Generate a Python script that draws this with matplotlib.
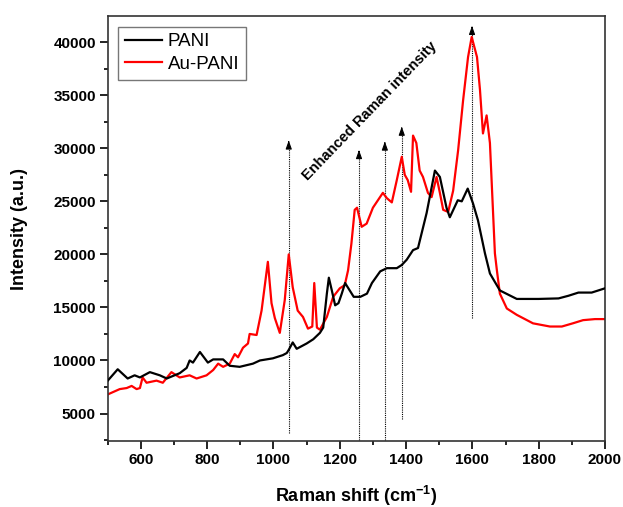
import matplotlib
matplotlib.use("Agg")
import matplotlib.pyplot as plt
from matplotlib.ticker import MultipleLocator

plt.rcParams['font.family'] = ['Liberation Sans', 'DejaVu Sans']
plt.rcParams['mathtext.fontset'] = 'custom'
plt.rcParams['mathtext.rm'] = 'Liberation Sans:bold'
plt.rcParams['mathtext.bf'] = 'Liberation Sans:bold'
plt.rcParams['mathtext.default'] = 'bf'

# PANI (black)
pani_x = [500, 530, 560, 581, 597, 627, 657, 678, 717, 738, 747, 757, 778, 802, 818, 848,
          868, 898, 938, 959, 998, 1028, 1040, 1046, 1058, 1070, 1100, 1120, 1140, 1150,
          1161, 1167, 1176, 1186, 1196, 1206, 1216, 1226, 1242, 1262, 1282, 1297, 1322,
          1342, 1372, 1387, 1402, 1421, 1436, 1462, 1487, 1502, 1522, 1532, 1556, 1568,
          1586, 1602, 1617, 1638, 1653, 1683, 1734, 1800, 1860, 1890, 1920, 1960, 2000]
pani_y = [8100, 9170, 8300, 8600, 8400, 8900, 8600, 8300, 8800, 9300, 10000, 9800, 10800,
          9800, 10100, 10100, 9500, 9400, 9700, 10000, 10200, 10500, 10700, 11000, 11700,
          11100, 11600, 12000, 12600, 13100, 16300, 17800, 16600, 15200, 15400, 16300,
          17300, 16800, 16000, 16000, 16300, 17300, 18400, 18700, 18700, 19000, 19500,
          20400, 20600, 23900, 27900, 27300, 24400, 23500, 25100, 25000, 26200, 24800,
          23200, 20100, 18200, 16600, 15800, 15800, 15850, 16100, 16400, 16400, 16800]

# Au-PANI (red)
au_x = [500, 536, 557, 572, 587, 597, 605, 617, 647, 666, 692, 717, 747, 768, 798, 818,
        833, 848, 868, 883, 893, 908, 923, 928, 949, 964, 983, 994, 1004, 1019, 1034,
        1046, 1058, 1073, 1089, 1104, 1117, 1123, 1131, 1140, 1161, 1180, 1200, 1215,
        1225, 1235, 1245, 1252, 1266, 1281, 1300, 1315, 1330, 1342, 1357, 1372, 1387,
        1396, 1405, 1415, 1421, 1431, 1441, 1451, 1466, 1477, 1492, 1502, 1512, 1527,
        1542, 1557, 1572, 1587, 1598, 1614, 1623, 1632, 1643, 1653, 1668, 1674, 1683,
        1704, 1734, 1783, 1834, 1870, 1903, 1934, 1970, 2000]
au_y = [6800, 7300, 7400, 7600, 7300, 7400, 8400, 7900, 8100, 7900, 8900, 8400, 8600,
        8300, 8600, 9100, 9700, 9400, 9700, 10600, 10300, 11200, 11600, 12500, 12400,
        14700, 19300, 15400, 14000, 12600, 15700, 20000, 16900, 14700, 14100, 13000,
        13200, 17300, 13100, 12900, 14100, 16000, 16800, 17100, 18500, 21000, 24200,
        24400, 22600, 22900, 24400, 25100, 25800, 25300, 24900, 27000, 29200, 27500,
        27000, 25900, 31200, 30500, 27900, 27300, 25800, 25400, 27300, 25800, 24200,
        24000, 26000, 29800, 34500, 38600, 40500, 38600, 35500, 31400, 33100, 30500,
        20100, 18500, 16300, 14900, 14300, 13500, 13200, 13200, 13500, 13800, 13900, 13900]

# Arrows (x position, bottom, top)
arrow_x = [1046, 1258, 1336, 1387, 1599]
arrow_bottom = [3200, 2500, 2500, 4500, 14000]
arrow_top = [31000, 30100, 30900, 32300, 41800]

fig = plt.figure(figsize=(6.23, 5.07), dpi=100)
ax = fig.add_axes([0.173, 0.130, 0.798, 0.838])

for xa, yb, yt in zip(arrow_x, arrow_bottom, arrow_top):
    ax.plot([xa, xa], [yb, yt - 600], color='black', lw=0.8, ls=(0, (1, 1)), zorder=1)
    ax.annotate('', xy=(xa, yt), xytext=(xa, yt - 700),
                arrowprops=dict(arrowstyle='-|>,head_length=0.5,head_width=0.18',
                                color='black', lw=0.8), zorder=1)

ax.plot(pani_x, pani_y, color='black', lw=1.6, label='PANI', zorder=3)
ax.plot(au_x, au_y, color='#ff0000', lw=1.6, label='Au-PANI', zorder=2)

ax.text(1291, 33500, 'Enhanced Raman intensity', rotation=46, ha='center', va='center',
        fontsize=10.5, fontweight='bold')

ax.set_xlim(500, 2000)
ax.set_ylim(2400, 42450)
ax.xaxis.set_minor_locator(MultipleLocator(100))
ax.yaxis.set_minor_locator(MultipleLocator(2500))
ax.set_yticks([5000, 10000, 15000, 20000, 25000, 30000, 35000, 40000])
ax.set_xticks([600, 800, 1000, 1200, 1400, 1600, 1800, 2000])
ax.tick_params(axis='both', which='major', direction='out', length=5.5, width=1.2,
               labelsize=11, pad=3)
ax.tick_params(axis='both', which='minor', direction='out', length=3, width=1.2)
for lab in ax.get_xticklabels() + ax.get_yticklabels():
    lab.set_fontweight('bold')
for sp in ax.spines.values():
    sp.set_linewidth(1.2)
    sp.set_color('#333333')

ax.set_xlabel('Raman shift (cm$^{-1}$)', fontsize=13, fontweight='bold', labelpad=12)
ax.set_ylabel('Intensity (a.u.)', fontsize=13, fontweight='bold', labelpad=18)

leg = ax.legend(loc='upper left', fontsize=13.5, frameon=True, fancybox=False,
                edgecolor='#555555', handlelength=2.0, borderpad=0.35,
                labelspacing=0.3, handletextpad=0.3, borderaxespad=0.55)
leg.get_frame().set_linewidth(1.0)

fig.savefig('out.png', dpi=100, facecolor='white')
